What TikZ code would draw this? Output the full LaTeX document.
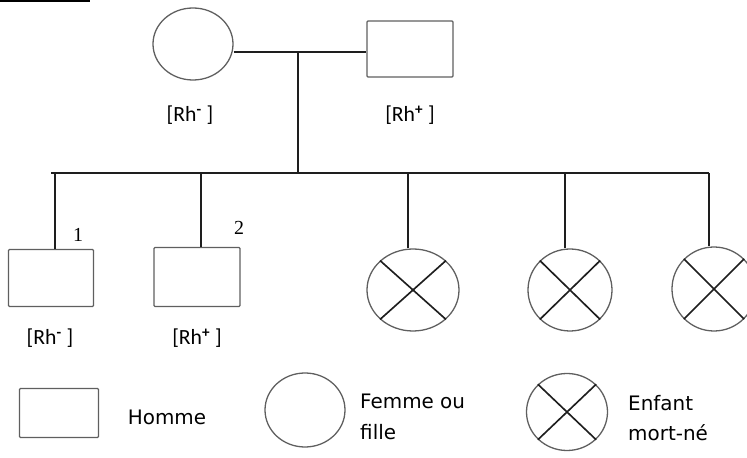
\documentclass[tikz,border=0pt]{standalone}
\usepackage{fontspec}
\setmainfont{DejaVu Sans}
\newfontfamily\numfont{Liberation Serif}
\newfontfamily\rhfont{Carlito}
\usepackage{tikz}
\usetikzlibrary{ shapes.geometric, % For the ellipses
                 positioning,      % For easy node-relative placements
               }
\definecolor{outline}{RGB}{95,95,95}
\definecolor{wire}{RGB}{30,30,30}
\tikzstyle{link} = [draw=wire, line width=1.6pt]
\tikzstyle{male} = [rectangle, draw=outline, line width=1.1pt, rounded corners=0.8pt, inner sep=0pt]
\tikzstyle{female} = [ellipse, draw=outline, line width=1.1pt, inner sep=0pt]
\tikzstyle{stillborn} = [ellipse, draw=outline, line width=1.1pt, inner sep=0pt, minimum width=2.6cm, minimum height=2.46cm]
\tikzstyle{cross} = [draw=wire, line width=1.4pt]
\tikzstyle{rh} = [font=\rhfont\fontsize{18.5}{20}\selectfont, text=black, inner sep=1pt]
\tikzstyle{rank} = [font=\numfont\fontsize{17}{19}\selectfont, inner sep=1pt]
\tikzstyle{legend} = [font=\fontsize{17}{26}\selectfont, text=black, align=left, inner sep=0pt]

\begin{document}
\begin{tikzpicture}[x=0.03cm, y=-0.03cm]
  \useasboundingbox (0, 0) rectangle (747, 458);
  \draw [line width=1.6pt] (0, 1) -- (90, 1);

  % parents
  \node (mother) [female, minimum width=2.4cm, minimum height=2.16cm] at (193, 44) {};
  \node (father) [male, minimum width=2.58cm, minimum height=1.68cm] at (410, 49) {};
  \node (rhm) [rh] at (190, 115) {[Rh\textsuperscript{\textbf{-}} ]};
  \node (rhf) [rh] at (410, 115) {[Rh\textsuperscript{\textbf{+}} ]};
  \coordinate (mar) at (298, 52);
  \draw [link] (mother.east |- mar) -- (father.west |- mar);

  % children
  \node (c1) [male, minimum width=2.55cm, minimum height=1.71cm] at (51, 278) {};
  \node (c2) [male, minimum width=2.58cm, minimum height=1.77cm] at (197, 277) {};
  \node (c3) [stillborn, minimum width=2.76cm] at (413, 290) {};
  \node (c4) [stillborn, minimum width=2.52cm] at (570, 290) {};
  \node (c5) [stillborn, minimum width=2.52cm, minimum height=2.52cm] at (714, 289) {};
  \node (n1) [rank] at (78, 235) {1};
  \node (n2) [rank] at (239, 228) {2};
  \node (rh1) [rh] at (50, 338) {[Rh\textsuperscript{\textbf{-}} ]};
  \node (rh2) [rh] at (197, 338) {[Rh\textsuperscript{\textbf{+}} ]};

  \coordinate (sl) at (51, 173);
  \coordinate (sr) at (709, 173);
  \draw [link] (mar) -- (mar |- sl);
  \draw [link] (sl) -- (sr);
  \foreach \c/\x in {c1/55, c2/201, c3/408, c4/565, c5/709}
    \draw [link] (\x, 173) -- (\x, 0 |- \c.north);

  % legend
  \node (lm) [male, minimum width=2.37cm, minimum height=1.47cm] at (59, 413) {};
  \node (lf) [female, minimum width=2.4cm, minimum height=2.22cm] at (305, 410) {};
  \node (ls) [stillborn, minimum width=2.43cm, minimum height=2.31cm] at (567, 412) {};
  \node (tm) [legend] at (167, 417) {Homme};
  \node (tf) [legend, anchor=west] at (360, 417) {Femme ou\\fille};
  \node (ts) [legend, anchor=west] at (628, 418) {Enfant\\mort-né};

  \foreach \c in {c3, c4, c5, ls}
    \draw [cross] (\c.north west) -- (\c.south east) (\c.north east) -- (\c.south west);
\end{tikzpicture}
\end{document}
